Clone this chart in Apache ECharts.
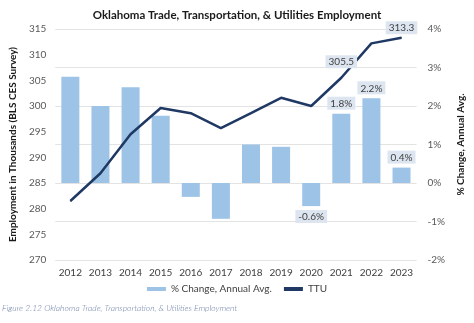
<!DOCTYPE html>
<html>
<head>
<meta charset="utf-8">
<script src="https://cdn.jsdelivr.net/npm/echarts@6/dist/echarts.min.js"></script>
<style>
  html, body { margin: 0; padding: 0; background: #fff; }
  #chart { width: 474px; height: 323px; }
</style>
</head>
<body>
<div id="chart"></div>
<script>
// Oklahoma TTU employment (thousands) and annual % change
const years = ['2012','2013','2014','2015','2016','2017','2018','2019','2020','2021','2022','2023'];
const pctChange = [2.76, 2.0, 2.49, 1.75, -0.36, -0.93, 1.0, 0.94, -0.6, 1.8, 2.2, 0.4];
const ttu = [281.5, 286.9, 294.5, 299.6, 298.6, 295.7, 298.6, 301.6, 300.0, 305.5, 312.2, 313.3];
// years whose values carry a data label
const pctLabelYears = ['2020','2021','2022','2023'];
const ttuLabelYears = ['2021','2023'];

const FONT = 'Lato';
const labelBox = {
  show: true,
  fontFamily: FONT,
  fontSize: 10,
  color: '#404040',
  backgroundColor: '#dde6f0',
  padding: [2, 3, 1, 3]
};

const barData = pctChange.map((v, i) => {
  const item = { value: v };
  if (pctLabelYears.includes(years[i])) {
    item.label = Object.assign({}, labelBox, {
      position: v < 0 ? 'bottom' : 'top',
      distance: 4,
      formatter: (p) => p.value.toFixed(1) + '%'
    });
  }
  return item;
});

const lineData = ttu.map((v, i) => {
  const item = { value: v };
  if (ttuLabelYears.includes(years[i])) {
    item.label = Object.assign({}, labelBox, {
      position: 'top',
      distance: years[i] === '2021' ? 9 : 3,
      offset: years[i] === '2021' ? [-1, 0] : [2, 0],
      formatter: (p) => p.value.toFixed(1)
    });
  }
  return item;
});

const chart = echarts.init(document.getElementById('chart'), null, { renderer: 'canvas' });
chart.setOption({
  animation: false,
  backgroundColor: '#ffffff',
  title: {
    text: 'Oklahoma Trade, Transportation, & Utilities Employment',
    left: 'center',
    top: 4,
    textStyle: { fontFamily: FONT, fontSize: 11.5, fontWeight: 'bold', color: '#1a1a1a' }
  },
  grid: { left: 46, right: 52, top: 29, bottom: 63, containLabel: false },
  legend: {
    bottom: 24,
    left: 'center',
    itemWidth: 19,
    itemHeight: 4,
    itemGap: 12,
    icon: 'rect',
    textStyle: { fontFamily: FONT, fontSize: 10, color: '#404040' },
    data: ['% Change, Annual Avg.', 'TTU']
  },
  xAxis: {
    type: 'category',
    data: years,
    axisLine: { show: false },
    axisTick: { show: false },
    axisLabel: { interval: 0, fontFamily: FONT, fontSize: 10, color: '#404040', margin: 8 }
  },
  yAxis: [
    {
      type: 'value',
      min: 270, max: 315, interval: 5,
      position: 'left',
      name: 'Employment in Thousands (BLS CES Survey)',
      nameLocation: 'middle',
      nameRotate: 90,
      nameGap: 29,
      nameTextStyle: { fontFamily: FONT, fontSize: 10, fontWeight: 'bold', color: '#1a1a1a' },
      axisLine: { show: false },
      axisTick: { show: false },
      splitLine: { show: false },
      axisLabel: { fontFamily: FONT, fontSize: 10, color: '#595959', margin: 9 }
    },
    {
      type: 'value',
      min: -2, max: 4, interval: 1,
      position: 'right',
      name: '% Change, Annual Avg.',
      nameLocation: 'middle',
      nameRotate: 90,
      nameGap: 33,
      nameTextStyle: { fontFamily: FONT, fontSize: 10, fontWeight: 'bold', color: '#1a1a1a' },
      axisLine: { show: false },
      axisTick: { show: false },
      splitLine: { show: true, lineStyle: { color: '#e3e3e3', width: 1 } },
      axisLabel: {
        fontFamily: FONT, fontSize: 10, color: '#595959', margin: 11,
        formatter: (v) => v + '%'
      }
    }
  ],
  series: [
    {
      name: '% Change, Annual Avg.',
      type: 'bar',
      yAxisIndex: 1,
      barWidth: 18,
      itemStyle: { color: '#9dc3e6' },
      data: barData,
      z: 2
    },
    {
      name: 'TTU',
      type: 'line',
      yAxisIndex: 0,
      symbol: 'circle',
      symbolSize: 1,
      showSymbol: true,
      lineStyle: { color: '#1f3864', width: 2.5 },
      itemStyle: { color: '#1f3864' },
      labelLayout: { hideOverlap: false },
      data: lineData,
      z: 3
    }
  ],
  graphic: [
    {
      type: 'text',
      left: 2,
      top: 304,
      style: {
        text: 'Figure 2.12 Oklahoma Trade, Transportation, & Utilities Employment',
        fontFamily: FONT,
        fontStyle: 'italic',
        fontWeight: 300,
        fontSize: 8.5,
        fill: '#6b7fa6'
      }
    }
  ]
});
</script>
</body>
</html>
